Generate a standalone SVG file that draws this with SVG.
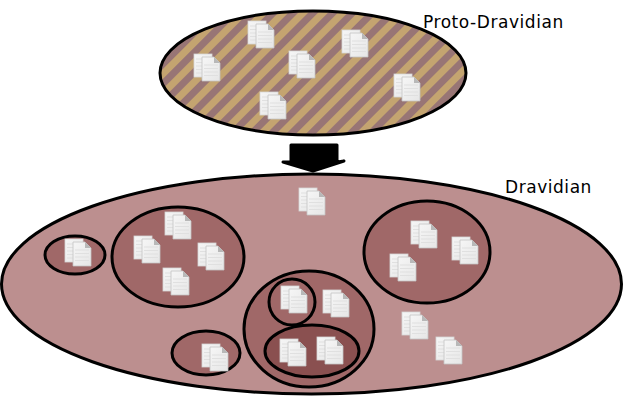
<svg xmlns="http://www.w3.org/2000/svg" width="640" height="400" viewBox="0 0 640 400">
<style>
.o{stroke:#000;stroke-width:3;fill:none}
.l{font-family:"DejaVu Sans",sans-serif;font-size:17px;letter-spacing:.55px;fill:#000}
.r{stroke:#e0e0e0;stroke-width:1.2;fill:none}
</style>
<defs>
<pattern id="st" width="14" height="14" patternUnits="userSpaceOnUse" patternTransform="rotate(45) translate(9.900 0)">
<rect width="14" height="14" fill="#987575"/><rect width="7" height="14" fill="#c4a470"/>
</pattern>
<linearGradient id="pg" x1="0" y1="0" x2="1" y2="1"><stop offset="0" stop-color="#f6f6f6"/><stop offset="1" stop-color="#e6e6e6"/></linearGradient>
<symbol id="doc" width="28" height="29" viewBox="0 0 28 29" overflow="visible">
<rect x="0" y="0" width="18" height="23" fill="url(#pg)" stroke="#d6d6d6" stroke-width=".8"/>
<path d="M2 5h14M2 8.500h14M2 12h14M2 15.500h14M2 19h14" class="r"/>
<path d="M8 3h12l6 6v18H8z" fill="url(#pg)" stroke="#c4c4c4" stroke-width=".8"/>
<path d="M20 3l6 6h-6z" fill="#b8b8b8"/>
<path d="M10 11h14M10 14.500h14M10 18h14M10 21.500h14" class="r"/>
</symbol>
</defs>
<rect width="640" height="400" fill="#fff"/>
<g id="connectors">
<path d="M291 145h46v17l7-1-31 10-30-9 8 0z" fill="#000" stroke="#000" stroke-width="3" stroke-linejoin="round"/>
</g>
<g id="proto">
<ellipse cx="313" cy="73" rx="153" ry="62" fill="url(#st)" stroke="#000" stroke-width="3"/>
<text x="423" y="28" class="l">Proto-Dravidian</text>
</g>
<g id="dravidian">
<ellipse cx="311.500" cy="284" rx="310" ry="110" fill="#bc8f8f" stroke="#000" stroke-width="3"/>
<text x="505" y="193" class="l">Dravidian</text>
</g>
<g id="groups">
<ellipse cx="178" cy="257" rx="66" ry="50" fill="#a06868"/>
<ellipse cx="427" cy="252" rx="63" ry="51" fill="#a06868"/>
<ellipse cx="309" cy="329" rx="65" ry="58" fill="#a06868"/>
<ellipse cx="292" cy="302" rx="23" ry="23" fill="#a06868"/>
<ellipse cx="312" cy="351" rx="47" ry="26" fill="#8a5050"/>
<ellipse cx="75" cy="255" rx="30" ry="19" fill="#a06868"/>
<ellipse cx="206" cy="353" rx="34" ry="22" fill="#a06868"/>
<ellipse cx="178" cy="257" rx="66" ry="50" class="o"/>
<ellipse cx="427" cy="252" rx="63" ry="51" class="o"/>
<ellipse cx="309" cy="329" rx="65" ry="58" class="o"/>
<ellipse cx="292" cy="302" rx="23" ry="23" class="o"/>
<ellipse cx="312" cy="351" rx="47" ry="26" class="o"/>
<ellipse cx="75" cy="255" rx="30" ry="19" class="o"/>
<ellipse cx="206" cy="353" rx="34" ry="22" class="o"/>
</g>
<g id="docs">
<use href="#doc" x="248" y="21"/><use href="#doc" x="194" y="54"/><use href="#doc" x="289" y="51"/><use href="#doc" x="260" y="92"/><use href="#doc" x="342" y="30"/><use href="#doc" x="394" y="74"/>
<use href="#doc" x="299" y="188"/><use href="#doc" x="165" y="212"/><use href="#doc" x="134" y="236"/><use href="#doc" x="198" y="243"/><use href="#doc" x="163" y="268"/><use href="#doc" x="65" y="239"/><use href="#doc" x="411" y="221"/><use href="#doc" x="452" y="237"/><use href="#doc" x="390" y="254"/><use href="#doc" x="281" y="286"/><use href="#doc" x="323" y="290"/><use href="#doc" x="280" y="339"/><use href="#doc" x="317" y="337"/><use href="#doc" x="202" y="344"/><use href="#doc" x="402" y="312"/><use href="#doc" x="436" y="337"/>
</g>
</svg>
